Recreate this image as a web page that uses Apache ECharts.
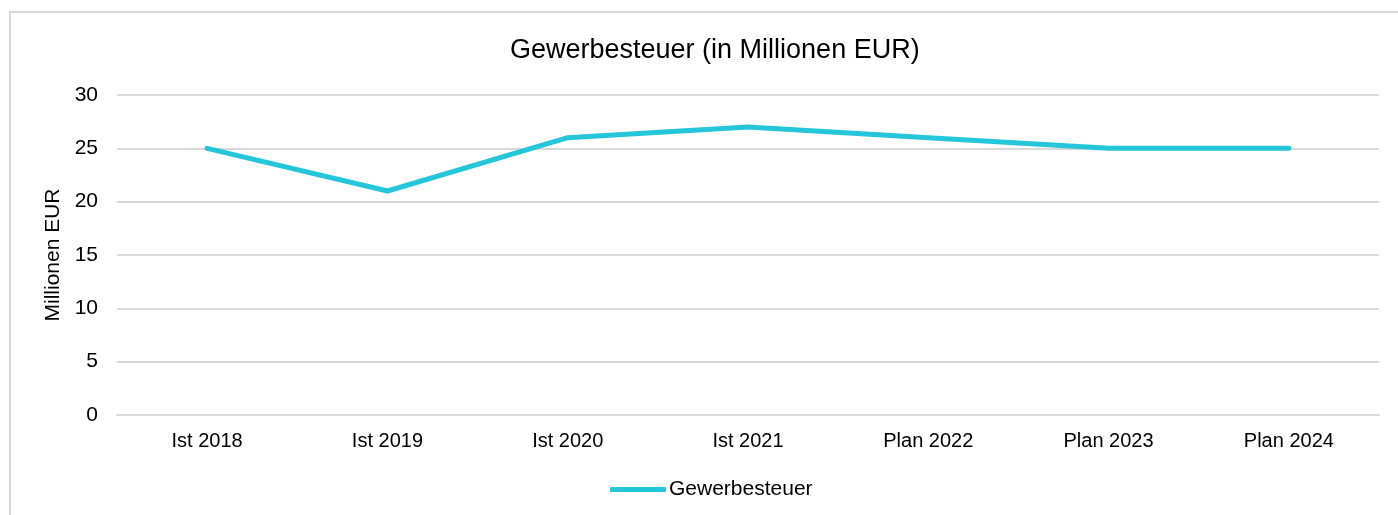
<!DOCTYPE html>
<html>
<head>
<meta charset="utf-8">
<script src="https://cdn.jsdelivr.net/npm/echarts@6/dist/echarts.min.js"></script>
<style>
html,body{margin:0;padding:0;background:#fff;}
#main{width:1398px;height:515px;}
</style>
</head>
<body>
<div id="main"></div>
<script>
// Kategorien und Werte
var categories = ['Ist 2018', 'Ist 2019', 'Ist 2020', 'Ist 2021', 'Plan 2022', 'Plan 2023', 'Plan 2024'];
var gewerbesteuer = [25, 21, 26, 27, 26, 25, 25];
var yTicks = [0, 5, 10, 15, 20, 25, 30];

var lineColor = '#26c6da';
var fontName = '"Liberation Sans", Arial, sans-serif';

var chart = echarts.init(document.getElementById('main'));
chart.setOption({
    animation: false,
    textStyle: {fontFamily: fontName},
    graphic: [{
        type: 'rect',
        shape: {x: 10, y: 12, width: 1400, height: 520},
        style: {fill: 'none', stroke: '#d9d9d9', lineWidth: 2},
        silent: true
    }],
    title: {
        text: 'Gewerbesteuer (in Millionen EUR)',
        left: 505,
        top: 32,
        textStyle: {fontSize: 27, fontWeight: 'normal', color: '#000', fontFamily: fontName}
    },
    legend: {
        data: ['Gewerbesteuer'],
        bottom: 10,
        left: 605,
        itemWidth: 56,
        itemHeight: 5,
        itemGap: 4,
        icon: 'roundRect',
        textStyle: {fontSize: 21, color: '#000', fontFamily: fontName, padding: [0, 0, 0, -2]}
    },
    grid: {left: 117, right: 19, top: 95, bottom: 100},
    xAxis: {
        type: 'category',
        data: categories,
        boundaryGap: true,
        axisLine: {show: true, lineStyle: {color: '#d9d9d9', width: 2}},
        axisTick: {show: false},
        axisLabel: {fontSize: 20, color: '#000', margin: 16, fontFamily: fontName}
    },
    yAxis: {
        type: 'value',
        min: yTicks[0],
        max: yTicks[yTicks.length - 1],
        interval: 5,
        name: 'Millionen EUR',
        nameLocation: 'middle',
        nameGap: 43,
        nameTextStyle: {fontSize: 21, color: '#000', fontFamily: fontName},
        axisLine: {show: false},
        axisTick: {show: false},
        axisLabel: {fontSize: 21, color: '#000', margin: 19, fontFamily: fontName},
        splitLine: {lineStyle: {color: '#d9d9d9', width: 2}}
    },
    series: [{
        name: 'Gewerbesteuer',
        type: 'line',
        data: gewerbesteuer,
        symbol: 'none',
        color: lineColor,
        lineStyle: {width: 5, color: lineColor, cap: 'round', join: 'round'}
    }]
});
</script>
</body>
</html>
